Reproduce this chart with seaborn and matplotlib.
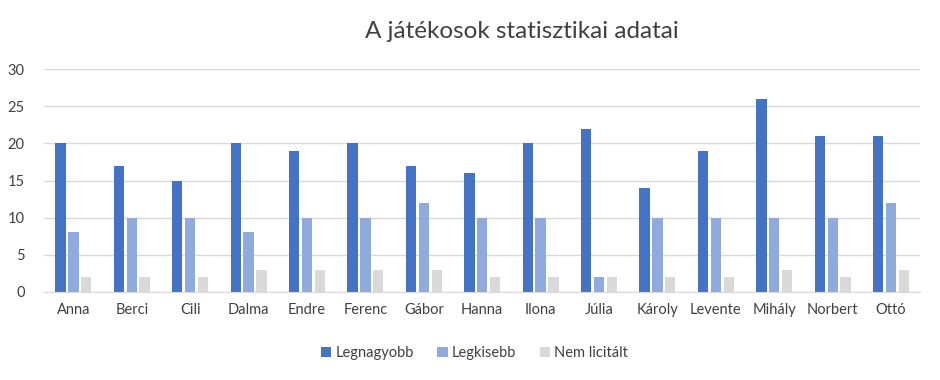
import matplotlib
matplotlib.use("Agg")
import matplotlib.pyplot as plt
import seaborn as sns
import pandas as pd

players = ["Anna", "Berci", "Cili", "Dalma", "Endre", "Ferenc", "Gábor", "Hanna",
           "Ilona", "Júlia", "Károly", "Levente", "Mihály", "Norbert", "Ottó"]
legnagyobb = [20, 17, 15, 20, 19, 20, 17, 16, 20, 22, 14, 19, 26, 21, 21]
legkisebb = [8, 10, 10, 8, 10, 10, 12, 10, 10, 2, 10, 10, 10, 10, 12]
nem_licitalt = [2, 2, 2, 3, 3, 3, 3, 2, 2, 2, 2, 2, 3, 2, 3]
series = ["Legnagyobb", "Legkisebb", "Nem licitált"]
colors = ["#4472C4", "#8FAADC", "#D9D9D9"]

df = pd.DataFrame({"Játékos": players, series[0]: legnagyobb,
                   series[1]: legkisebb, series[2]: nem_licitalt})
long = df.melt(id_vars="Játékos", var_name="Sorozat", value_name="Érték")

sns.set_style("white")
plt.rcParams["font.family"] = ["Lato", "DejaVu Sans"]

fig = plt.figure(figsize=(9.4, 3.8), dpi=100)
ax = fig.add_axes([0.047, 0.232, 0.932, 0.586])

sns.barplot(data=long, x="Játékos", y="Érték", hue="Sorozat", palette=colors,
            width=0.66, gap=0.2, ax=ax, saturation=1, linewidth=0)

ax.set_ylim(0, 30)
ax.set_yticks(range(0, 31, 5))
ax.set_xlim(-0.5, len(players) - 0.5)
ax.yaxis.grid(True, color="#D9D9D9", linewidth=1)
ax.set_axisbelow(True)
for s in ["top", "right", "left"]:
    ax.spines[s].set_visible(False)
ax.spines["bottom"].set_color("#D9D9D9")
ax.tick_params(axis="both", length=0, labelsize=10.5, colors="#404040", pad=8)
ax.tick_params(axis="y", pad=14)
ax.set_xlabel("")
ax.set_ylabel("")

fig.suptitle("A játékosok statisztikai adatai", x=0.555, y=0.945, fontsize=17.5,
             color="#404040")

handles, labels = ax.get_legend_handles_labels()
ax.get_legend().remove()
leg = fig.legend(handles, labels, loc="center", bbox_to_anchor=(0.505, 0.07), ncol=3,
                 frameon=False, fontsize=10.5, handlelength=0.7, handleheight=0.7,
                 handletextpad=0.3, columnspacing=1.6)
for t in leg.get_texts():
    t.set_color("#404040")

fig.savefig("out.png", dpi=100)
